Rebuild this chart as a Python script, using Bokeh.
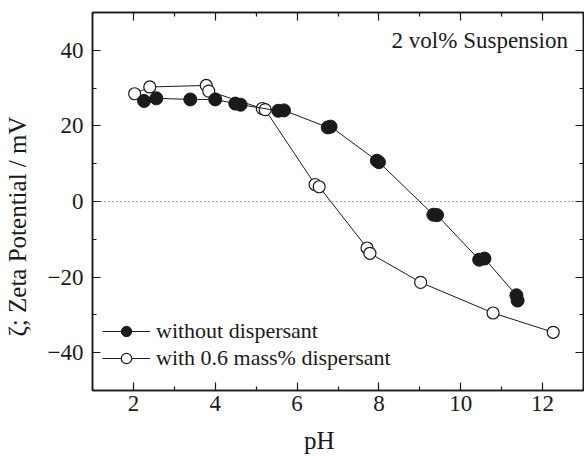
from bokeh.plotting import figure
from bokeh.models import (Range1d, LinearAxis, FixedTicker, Span, Label, Legend, LegendItem,
                          CustomJSTickFormatter)
from bokeh.embed import file_html
from bokeh.resources import INLINE

# Data
ph_without = [2.26, 2.56, 3.39, 4.00, 4.49, 4.62, 5.54, 5.68, 6.75, 6.82, 7.95, 8.00, 9.33, 9.42, 10.45, 10.58, 11.36, 11.39]
zeta_without = [26.6, 27.3, 27.0, 27.0, 25.9, 25.6, 24.0, 24.1, 19.6, 19.8, 10.8, 10.4, -3.5, -3.6, -15.4, -15.1, -24.8, -26.2]

ph_with = [2.03, 2.40, 3.78, 3.84, 5.15, 5.22, 6.44, 6.54, 7.71, 7.78, 9.02, 10.79, 12.26]
zeta_with = [28.5, 30.3, 30.7, 29.2, 24.6, 24.3, 4.5, 3.9, -12.3, -13.7, -21.4, -29.5, -34.6]

x_ticks = [2, 4, 6, 8, 10, 12]
x_minor = [1, 3, 5, 7, 9, 11, 13]
y_ticks = [-40, -20, 0, 20, 40]
y_minor = [-50, -30, -10, 10, 30, 50]

series_labels = ["without dispersant", "with 0.6 mass% dispersant"]
note_text = "2 vol% Suspension"
x_title = "pH"
y_title = "\u03b6; Zeta Potential / mV"

FONT = "Liberation Serif"
INK = "#1a1a1a"
NB = "\u00a0"

p = figure(width=584, height=456, output_backend="svg", toolbar_location=None,
           x_range=Range1d(1, 13), y_range=Range1d(-50, 50),
           x_axis_location=None, y_axis_location=None,
           min_border_left=90, min_border_right=1, min_border_top=12, min_border_bottom=65)
p.xgrid.grid_line_color = None
p.ygrid.grid_line_color = None
p.outline_line_color = INK
p.outline_line_width = 1.5
p.background_fill_color = "white"
p.border_fill_color = "white"

def style_axis(ax, show_labels):
    ax.axis_line_color = INK
    ax.axis_line_width = 1.5
    ax.major_tick_in = 8
    ax.major_tick_out = 0
    ax.minor_tick_in = 4
    ax.minor_tick_out = 0
    ax.major_tick_line_color = INK
    ax.minor_tick_line_color = INK
    ax.major_tick_line_width = 1.2
    ax.minor_tick_line_width = 1.2
    if show_labels:
        ax.major_label_text_font = FONT
        ax.major_label_text_font_size = "23px"
        ax.major_label_text_color = INK
        ax.axis_label_text_font = FONT
        ax.axis_label_text_font_size = "25px"
        ax.axis_label_text_font_style = "normal"
        ax.axis_label_text_color = INK
    else:
        ax.formatter = CustomJSTickFormatter(code="return ''")
        ax.major_label_standoff = 0

xt = FixedTicker(ticks=x_ticks, minor_ticks=x_minor)
yt = FixedTicker(ticks=y_ticks, minor_ticks=y_minor)

bottom = LinearAxis(ticker=xt, axis_label=x_title + NB * 6)
style_axis(bottom, True)
bottom.major_label_standoff = 5
bottom.axis_label_standoff = 13
left = LinearAxis(ticker=yt, axis_label=y_title + NB * 8)
style_axis(left, True)
left.major_label_standoff = 9
left.axis_label_standoff = 14
top = LinearAxis(ticker=xt)
style_axis(top, False)
right = LinearAxis(ticker=yt)
style_axis(right, False)
p.add_layout(bottom, "below")
p.add_layout(left, "left")
p.add_layout(top, "above")
p.add_layout(right, "right")

p.add_layout(Span(location=0, dimension="width", line_color="#444444",
                  line_width=1.2, line_dash="1 3"))

# hollow series (drawn first), then filled
l2 = p.line(ph_with, zeta_with, line_color=INK, line_width=1)
m2 = p.scatter(ph_with, zeta_with, marker="circle", size=12, fill_color="white",
               line_color=INK, line_width=1.2)
l1 = p.line(ph_without, zeta_without, line_color=INK, line_width=1)
m1 = p.scatter(ph_without, zeta_without, marker="circle", size=13, fill_color=INK,
               line_color=INK, line_width=1)

legend = Legend(items=[LegendItem(label=series_labels[0], renderers=[l1, m1]),
                       LegendItem(label=series_labels[1], renderers=[l2, m2])],
                location=(10, 19), padding=0, margin=0, spacing=1,
                glyph_width=48, glyph_height=26, label_height=26, label_standoff=6,
                border_line_color=None, background_fill_alpha=0,
                label_text_font=FONT, label_text_font_size="22px", label_text_color=INK)
p.add_layout(legend)

p.add_layout(Label(x=12.62, y=42.6, text=note_text, text_align="right",
                   text_baseline="middle", text_font=FONT, text_font_size="23px",
                   text_color=INK))

open("out.html", "w").write(file_html(p, INLINE))
